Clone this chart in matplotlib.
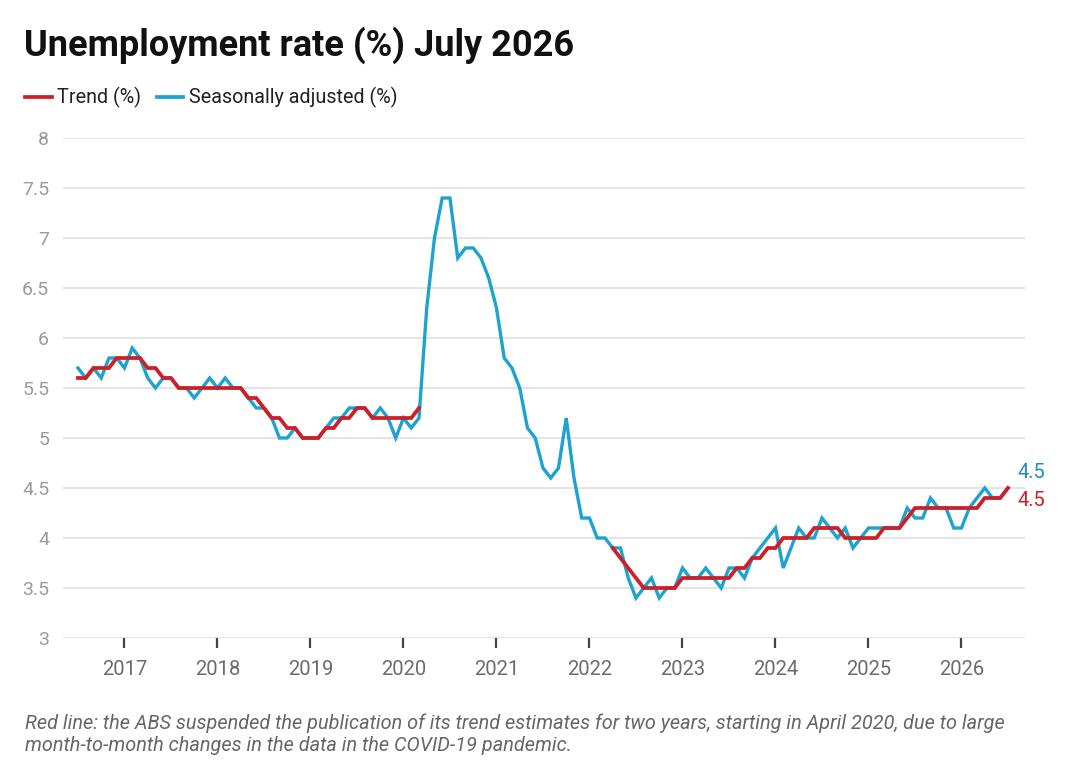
import matplotlib
matplotlib.use("Agg")
import matplotlib.pyplot as plt
import numpy as np

# ---- Data (monthly, July 2016 .. July 2026) ----
start_year = 2016
start_month = 7
seasonally_adjusted = [
    5.7, 5.6, 5.7, 5.6, 5.8, 5.8, 5.7, 5.9, 5.8, 5.6, 5.5, 5.6,   # Jul16-Jun17
    5.6, 5.5, 5.5, 5.4, 5.5, 5.6, 5.5, 5.6, 5.5, 5.5, 5.4, 5.3,   # Jul17-Jun18
    5.3, 5.2, 5.0, 5.0, 5.1, 5.0, 5.0, 5.0, 5.1, 5.2, 5.2, 5.3,   # Jul18-Jun19
    5.3, 5.3, 5.2, 5.3, 5.2, 5.0, 5.2, 5.1, 5.2, 6.3, 7.0, 7.4,   # Jul19-Jun20
    7.4, 6.8, 6.9, 6.9, 6.8, 6.6, 6.3, 5.8, 5.7, 5.5, 5.1, 5.0,   # Jul20-Jun21
    4.7, 4.6, 4.7, 5.2, 4.6, 4.2, 4.2, 4.0, 4.0, 3.9, 3.9, 3.6,   # Jul21-Jun22
    3.4, 3.5, 3.6, 3.4, 3.5, 3.5, 3.7, 3.6, 3.6, 3.7, 3.6, 3.5,   # Jul22-Jun23
    3.7, 3.7, 3.6, 3.8, 3.9, 4.0, 4.1, 3.7, 3.9, 4.1, 4.0, 4.0,   # Jul23-Jun24
    4.2, 4.1, 4.0, 4.1, 3.9, 4.0, 4.1, 4.1, 4.1, 4.1, 4.1, 4.3,   # Jul24-Jun25
    4.2, 4.2, 4.4, 4.3, 4.3, 4.1, 4.1, 4.3, 4.4, 4.5, 4.4, 4.4,   # Jul25-Jun26
    4.5,                                                          # Jul26
]
nan = float("nan")
trend = [
    5.6, 5.6, 5.7, 5.7, 5.7, 5.8, 5.8, 5.8, 5.8, 5.7, 5.7, 5.6,
    5.6, 5.5, 5.5, 5.5, 5.5, 5.5, 5.5, 5.5, 5.5, 5.5, 5.4, 5.4,
    5.3, 5.2, 5.2, 5.1, 5.1, 5.0, 5.0, 5.0, 5.1, 5.1, 5.2, 5.2,
    5.3, 5.3, 5.2, 5.2, 5.2, 5.2, 5.2, 5.2, 5.3, nan, nan, nan,
    nan, nan, nan, nan, nan, nan, nan, nan, nan, nan, nan, nan,
    nan, nan, nan, nan, nan, nan, nan, nan, nan, 3.9, 3.8, 3.7,
    3.6, 3.5, 3.5, 3.5, 3.5, 3.5, 3.6, 3.6, 3.6, 3.6, 3.6, 3.6,
    3.6, 3.7, 3.7, 3.8, 3.8, 3.9, 3.9, 4.0, 4.0, 4.0, 4.0, 4.1,
    4.1, 4.1, 4.1, 4.0, 4.0, 4.0, 4.0, 4.0, 4.1, 4.1, 4.1, 4.2,
    4.3, 4.3, 4.3, 4.3, 4.3, 4.3, 4.3, 4.3, 4.3, 4.4, 4.4, 4.4,
    4.5,
]
year_ticks = [2017, 2018, 2019, 2020, 2021, 2022, 2023, 2024, 2025, 2026]
y_ticks = [3, 3.5, 4, 4.5, 5, 5.5, 6, 6.5, 7, 7.5, 8]
y_tick_labels = ["3", "3.5", "4", "4.5", "5", "5.5", "6", "6.5", "7", "7.5", "8"]

title = "Unemployment rate (%) July 2026"
legend_labels = ["Trend (%)", "Seasonally adjusted (%)"]
footnote = ("Red line: the ABS suspended the publication of its trend estimates for two years, starting in April 2020, due to large\n"
            "month-to-month changes in the data in the COVID-19 pandemic.")

RED = "#cb2027"
BLUE = "#1ea2cf"

plt.rcParams["font.family"] = ["Roboto", "DejaVu Sans"]

n = len(seasonally_adjusted)
x = start_year + (start_month - 1) / 12 + np.arange(n) / 12.0

fig = plt.figure(figsize=(10.8, 7.66), dpi=100)
fig.patch.set_facecolor("white")
ax = fig.add_axes([63 / 1080, 1 - 638 / 766, (1025 - 63) / 1080, 500 / 766])

ax.plot(x, seasonally_adjusted, color=BLUE, lw=2.4, solid_joinstyle="miter", zorder=3)
ax.plot(x, trend, color=RED, lw=2.7, solid_joinstyle="miter", zorder=4)

ax.set_ylim(3, 8)
ax.set_xlim(2016.339, 2026.683)
ax.set_yticks(y_ticks)
ax.set_yticklabels(y_tick_labels)
ax.set_xticks(year_ticks)
ax.set_xticklabels([str(y) for y in year_ticks])

ax.grid(axis="y", color="#e4e4e4", lw=1.4, zorder=0)
ax.grid(axis="x", visible=False)
for s in ax.spines.values():
    s.set_visible(False)
ax.tick_params(axis="y", length=0, pad=10, labelsize=14, labelcolor="#9a9a9a")
ax.tick_params(axis="x", length=7, width=1.6, color="#444444", pad=9,
               labelsize=14.5, labelcolor="#6b6b6b", direction="out")
ax.set_facecolor("white")

# End labels
ax.annotate(f"{seasonally_adjusted[-1]:g}", xy=(x[-1], seasonally_adjusted[-1]),
            xytext=(6.5, 11.5), textcoords="offset points", color="#1a8fb8",
            fontsize=14.5, va="center", ha="left", annotation_clip=False)
ax.annotate(f"{trend[-1]:g}", xy=(x[-1], trend[-1]),
            xytext=(6.5, -9), textcoords="offset points", color=RED,
            fontsize=14.5, va="center", ha="left", annotation_clip=False)

# Title
fig.text(24 / 1080, 1 - 45 / 766, title, fontsize=26, fontweight="bold",
         color="#111111", va="center", ha="left")

# Legend (manual)
ly = 1 - 97 / 766
fig.add_artist(plt.Line2D([25 / 1080, 52 / 1080], [ly, ly], color=RED, lw=2.7))
fig.text(57 / 1080, ly, legend_labels[0], fontsize=14.2, color="#222222", va="center", ha="left")
fig.add_artist(plt.Line2D([157 / 1080, 183 / 1080], [ly, ly], color=BLUE, lw=2.7))
fig.text(189 / 1080, ly, legend_labels[1], fontsize=14.2, color="#222222", va="center", ha="left")

# Footnote
fig.text(25 / 1080, 1 - 734 / 766, footnote, fontsize=14.3, style="italic",
         color="#666666", va="center", ha="left", linespacing=1.2)

fig.savefig("out.png", dpi=100, facecolor="white")
